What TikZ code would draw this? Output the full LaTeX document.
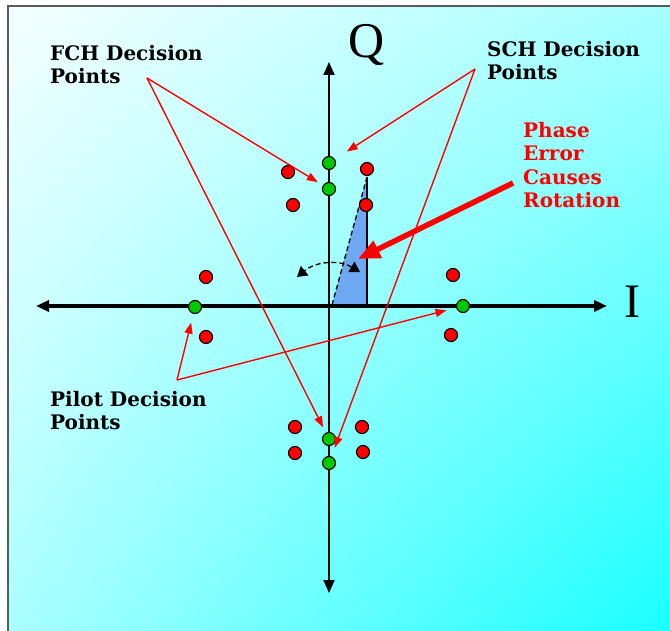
\documentclass[tikz,border=0pt]{standalone}
\usepackage{fontspec}
\setmainfont{DejaVu Serif}
\newfontfamily\axisfont{Liberation Serif}
\usetikzlibrary{arrows.meta,shadings}

\definecolor{ptgreen}{HTML}{00C800}
\definecolor{wedgeblue}{HTML}{6EA8F2}
\definecolor{framegray}{HTML}{5A5A5A}

\tikzset{
  gdot/.style={circle,draw=black,line width=1.1pt,fill=ptgreen,minimum size=13pt,inner sep=0pt},
  rdot/.style={circle,draw=black,line width=1.1pt,fill=red,minimum size=13pt,inner sep=0pt},
  lbl/.style={anchor=north west,align=left,inner sep=0pt,font=\fontsize{20}{23.5}\selectfont\bfseries},
  pointer/.style={red,line width=1.4pt,-{Triangle[length=11pt,width=8pt]}},
  axis/.style={black,{Triangle[length=13pt,width=11pt]}-{Triangle[length=13pt,width=11pt]}}
}

\begin{document}
\begin{tikzpicture}[x=1pt,y=-1pt]
  \useasboundingbox (0,0) rectangle (670,631);
  % background and frame
  \shade[upper left=cyan!4!white,upper right=cyan!35!white,
         lower left=cyan!33!white,lower right=cyan!90!white] (8,6) rectangle (670,631);
  \draw[framegray,line width=2pt] (8,631) -- (8,6) -- (670,6);

  % phase error wedge
  \coordinate (o) at (332,305);
  \coordinate (apex) at (367,177);
  \coordinate (foot) at (367,305);
  \fill[wedgeblue] (o) -- (apex) -- (foot) -- cycle;
  \draw[dash pattern=on 5pt off 3pt,line width=1.3pt] (o) -- (apex);
  \draw[line width=1.3pt] (foot) -- (apex);

  % axes
  \coordinate (qtop) at (329,62);
  \coordinate (qbot) at (329,593);
  \coordinate (ileft) at (36,306);
  \coordinate (iright) at (607,306);
  \draw[axis,line width=1.8pt] (qbot) -- (qtop);
  \draw[axis,line width=3.5pt] (ileft) -- (iright);
  \node[font=\axisfont\fontsize{50}{50}\selectfont,anchor=base,inner sep=0pt] (qlab) at (367,58) {Q};
  \node[font=\axisfont\fontsize{48}{48}\selectfont,anchor=base,inner sep=0pt] (ilab) at (632,318) {I};

  % rotation arc
  \coordinate (arcr) at (360,272);
  \coordinate (arcl) at (297,277);
  \draw[dash pattern=on 5pt off 3pt,line width=1.3pt,
        {Triangle[length=10pt,width=12pt]}-{Triangle[length=10pt,width=12pt]}]
    (arcr) to[bend right=35] (arcl);

  % decision points
  \node[gdot] (gt1) at (329,163) {};
  \node[gdot] (gt2) at (329,189) {};
  \node[gdot] (gl) at (195,307) {};
  \node[gdot] (gr) at (463,306) {};
  \node[gdot] (gb1) at (329,439) {};
  \node[gdot] (gb2) at (329,463) {};
  \node[rdot] (rt1) at (288,172) {};
  \node[rdot] (rt2) at (367,169) {};
  \node[rdot] (rt3) at (293,205) {};
  \node[rdot] (rt4) at (366,205) {};
  \node[rdot] (rl1) at (206,277) {};
  \node[rdot] (rl2) at (206,337) {};
  \node[rdot] (rr1) at (453,275) {};
  \node[rdot] (rr2) at (451,335) {};
  \node[rdot] (rb1) at (295,427) {};
  \node[rdot] (rb2) at (362,427) {};
  \node[rdot] (rb3) at (295,453) {};
  \node[rdot] (rb4) at (363,452) {};

  % labels
  \node[lbl] (fch) at (50,45) {FCH Decision\\Points};
  \node[lbl] (sch) at (487,41) {SCH Decision\\Points};
  \node[lbl] (pilot) at (50,391) {Pilot Decision\\Points};
  \node[lbl,text=red] (phase) at (523,122) {Phase\\Error\\Causes\\Rotation};

  \coordinate (fchpt) at (147,78);
  \coordinate (schpt) at (475,69);
  \coordinate (pilotpt) at (177,380);
  \coordinate (phasept) at (513,183);
  \coordinate (wedge) at (358,259);

  \draw[pointer,shorten >=6pt] (fchpt) -- (gt2);
  \draw[pointer,shorten >=6pt] (fchpt) -- (gb1);
  \draw[pointer,shorten >=14pt] (schpt) -- (gt1);
  \draw[pointer,shorten >=9pt] (schpt) -- (gb2);
  \draw[pointer,shorten >=9pt] (pilotpt) -- (gl);
  \draw[pointer,shorten >=10pt] (pilotpt) -- (gr);
  \draw[red,line width=5.5pt,-{Triangle[length=22pt,width=18pt]}] (phasept) -- (wedge);
\end{tikzpicture}
\end{document}
